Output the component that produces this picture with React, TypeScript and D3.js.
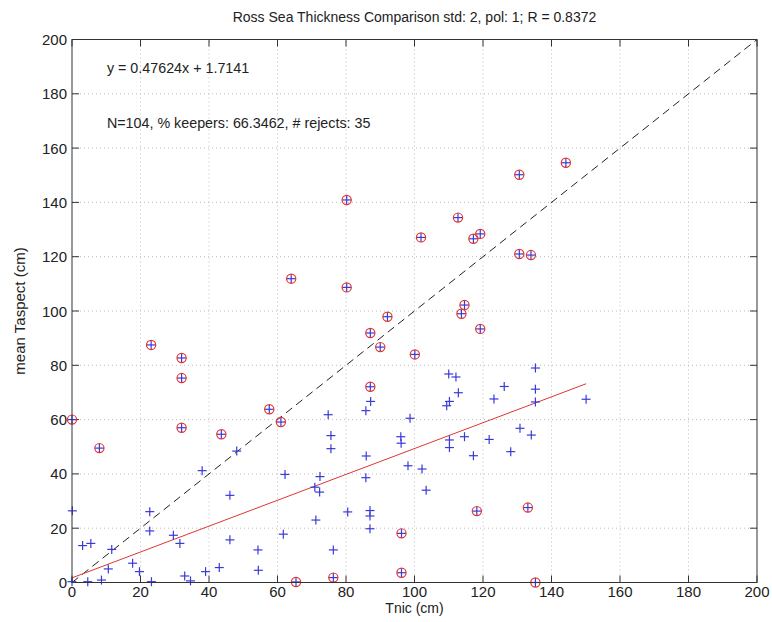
import React from "react";
import * as d3 from "d3";

// Accepted samples (Tnic cm, mean Taspect cm)
const keeperX = [48.1, 38.0, 46.1, 0.1, 22.7, 22.7, 3.1, 5.5, 11.6, 29.6, 31.5, 46.1, 54.3, 10.6, 17.7, 19.7, 0, 4.6, 8.6, 23.2, 32.9, 34.6, 39.0, 43.0, 54.4,
  87.2, 85.8, 74.8, 98.7, 75.6, 96.0, 96.1, 75.6, 85.9, 98.1, 102.2, 103.4, 62.2, 72.4, 85.8, 70.9, 72.3, 80.5, 87.0, 87.0, 71.2, 87.0, 61.7, 76.3,
  135.3, 110.0, 112.1, 135.3, 126.2, 112.8, 123.2, 110.2, 109.4, 135.3, 150.1, 130.8, 134.1, 114.6, 110.2, 121.8, 110.2, 128.1, 117.2];
const keeperY = [48.4, 41.2, 32.1, 26.4, 26.1, 19.0, 13.6, 14.4, 12.2, 17.4, 14.4, 15.7, 12.0, 5.0, 7.1, 4.0, 0.3, 0.3, 0.9, 0.3, 2.4, 0.6, 4.0, 5.5, 4.5,
  66.7, 63.3, 61.8, 60.5, 54.1, 53.7, 51.3, 49.3, 46.6, 43.0, 41.8, 34.0, 39.8, 39.0, 38.6, 35.1, 33.3, 26.0, 26.5, 24.5, 23.0, 19.8, 17.8, 12.0,
  79.0, 76.8, 75.7, 71.2, 72.2, 69.9, 67.6, 66.7, 65.1, 66.5, 67.5, 56.8, 54.3, 53.7, 52.5, 52.7, 49.7, 48.2, 46.7];

// Rejected samples (beyond 2 std)
const rejectX = [0, 8.0, 32.0, 43.6, 32.0, 32.0, 23.1, 64.0, 80.2, 112.7, 101.9, 117.2, 119.2, 130.6, 144.2, 130.6, 134.0, 80.2,
  114.6, 113.7, 119.2, 92.1, 87.1, 90.0, 100.1, 87.1, 57.6, 61.0, 96.2, 96.2, 65.4, 76.3, 118.2, 133.1, 135.3];
const rejectY = [60.0, 49.5, 57.0, 54.6, 75.3, 82.7, 87.5, 111.9, 140.9, 134.4, 127.1, 126.6, 128.4, 150.2, 154.6, 121.0, 120.6, 108.7,
  102.2, 99.0, 93.4, 97.9, 91.9, 86.7, 84.0, 72.1, 63.8, 59.1, 18.1, 3.6, 0.2, 1.8, 26.3, 27.6, 0];

const xTicks = [0, 20, 40, 60, 80, 100, 120, 140, 160, 180, 200];
const yTicks = [0, 20, 40, 60, 80, 100, 120, 140, 160, 180, 200];

const fitSlope = 0.47624;
const fitIntercept = 1.7141;
const fitRange = [0, 150.1];

const titleText = "Ross Sea Thickness Comparison std: 2, pol: 1; R = 0.8372";
const fitText = "y = 0.47624x + 1.7141";
const statsText = "N=104, % keepers: 66.3462, # rejects: 35";

const W = 772;
const H = 622;
const FONT = "'Liberation Sans', Arial, Helvetica, sans-serif";

export default function App() {
  const x = d3.scaleLinear().domain([0, 200]).range([72, 757]);
  const y = d3.scaleLinear().domain([0, 200]).range([582.5, 39.5]);
  const [x0, x1] = x.range();
  const [y0, y1] = y.range();
  const tickLen = 7;
  const arm = 4.5;

  const fitLine = d3.line<number>()
    .x((v) => x(v))
    .y((v) => y(fitSlope * v + fitIntercept));
  const oneToOne = d3.line<number>().x((v) => x(v)).y((v) => y(v));

  return (
    <svg width={W} height={H} style={{ position: "absolute", left: 0, top: 0, background: "#fff" }} fontFamily={FONT}>
      <rect x={0} y={0} width={W} height={H} fill="#fff" />
      {/* dotted grid */}
      <g stroke="#bcbcbc" strokeWidth={1} strokeDasharray="1,3">
        {xTicks.slice(1, -1).map((t) => (
          <line key={"gx" + t} x1={x(t)} x2={x(t)} y1={y0} y2={y1} />
        ))}
        {yTicks.slice(1, -1).map((t) => (
          <line key={"gy" + t} x1={x0} x2={x1} y1={y(t)} y2={y(t)} />
        ))}
      </g>
      {/* tick marks on all four sides */}
      <g stroke="#333" strokeWidth={1}>
        {xTicks.map((t) => (
          <g key={"tx" + t}>
            <line x1={x(t)} x2={x(t)} y1={y0} y2={y0 - tickLen} />
            <line x1={x(t)} x2={x(t)} y1={y1} y2={y1 + tickLen} />
          </g>
        ))}
        {yTicks.map((t) => (
          <g key={"ty" + t}>
            <line x1={x0} x2={x0 + tickLen} y1={y(t)} y2={y(t)} />
            <line x1={x1} x2={x1 - tickLen} y1={y(t)} y2={y(t)} />
          </g>
        ))}
      </g>
      {/* 1:1 reference */}
      <path d={oneToOne([0, 200]) || ""} fill="none" stroke="#222" strokeWidth={1} strokeDasharray="8,5" />
      {/* linear fit */}
      <path d={fitLine(fitRange) || ""} fill="none" stroke="#e03535" strokeWidth={1} />
      {/* keepers */}
      <g stroke="#3a3ad8" strokeWidth={1.2}>
        {keeperX.map((vx, i) => {
          const cx = x(vx);
          const cy = y(keeperY[i]);
          return (
            <g key={"k" + i}>
              <line x1={cx - arm} x2={cx + arm} y1={cy} y2={cy} />
              <line x1={cx} x2={cx} y1={cy - arm} y2={cy + arm} />
            </g>
          );
        })}
      </g>
      {/* rejects: plus with red ring */}
      <g>
        {rejectX.map((vx, i) => {
          const cx = x(vx);
          const cy = y(rejectY[i]);
          return (
            <g key={"r" + i}>
              <line x1={cx - arm} x2={cx + arm} y1={cy} y2={cy} stroke="#3a3ad8" strokeWidth={1.2} />
              <line x1={cx} x2={cx} y1={cy - arm} y2={cy + arm} stroke="#3a3ad8" strokeWidth={1.2} />
              <circle cx={cx} cy={cy} r={4.6} fill="none" stroke="#e03535" strokeWidth={1.2} />
            </g>
          );
        })}
      </g>
      {/* axes box */}
      <rect x={x0} y={y1} width={x1 - x0} height={y0 - y1} fill="none" stroke="#333" strokeWidth={1} />
      {/* tick labels */}
      <g fontSize={15} fill="#222">
        {xTicks.map((t) => (
          <text key={"lx" + t} x={x(t)} y={y0 + 14} textAnchor="middle">{t}</text>
        ))}
        {yTicks.map((t) => (
          <text key={"ly" + t} x={x0 - 5} y={y(t)} textAnchor="end" dominantBaseline="central">{t}</text>
        ))}
      </g>
      {/* annotations */}
      <g fontSize={14.3} fill="#222">
        <text x={x(10.2)} y={y(189.5)} dominantBaseline="central">{fitText}</text>
        <text x={x(10.2)} y={y(169.3)} dominantBaseline="central">{statsText}</text>
      </g>
      <text x={(x0 + x1) / 2} y={22} textAnchor="middle" fontSize={14} fill="#222">{titleText}</text>
      <text x={(x0 + x1) / 2} y={613} textAnchor="middle" fontSize={14} fill="#222">Tnic (cm)</text>
      <text transform={`translate(25,${(y0 + y1) / 2}) rotate(-90)`} textAnchor="middle" fontSize={15} fill="#222">mean Taspect (cm)</text>
    </svg>
  );
}
